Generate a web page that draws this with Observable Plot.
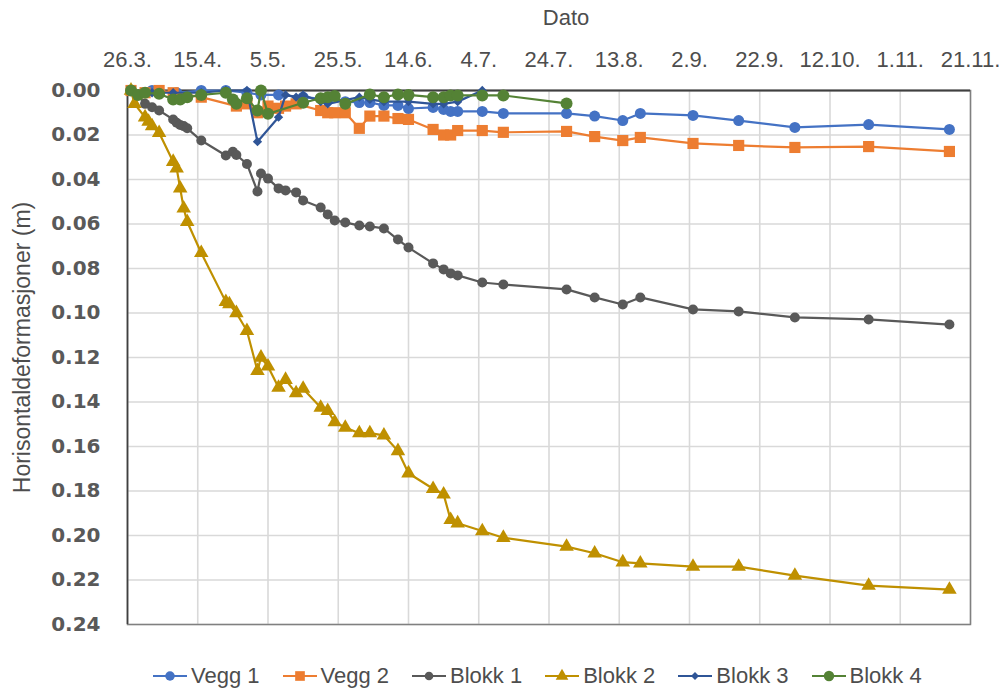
<!DOCTYPE html>
<html>
<head>
<meta charset="utf-8">
<script src="https://cdn.jsdelivr.net/npm/d3@7"></script>
<script src="https://cdn.jsdelivr.net/npm/@observablehq/plot@0.6"></script>
<style>
  body { margin: 0; background: #fff; }
  #chart { position: relative; width: 1005px; height: 690px; background: #fff; }
  #legend {
    position: absolute; left: 153px; top: 660px; height: 32px;
    display: flex; align-items: center; gap: 23px;
    font-family: "Liberation Sans", Arial, sans-serif; font-size: 22px; color: #4d4d4d;
  }
  .item { display: flex; align-items: center; gap: 4px; white-space: nowrap; }
</style>
</head>
<body>
<div id="chart"><div id="legend"></div></div>
<script>
// Horizontal displacement (m) per measuring point, by date
const seriesNames = ["Vegg 1", "Vegg 2", "Blokk 1", "Blokk 2", "Blokk 3", "Blokk 4"];

const vegg1Dates = ["2019-03-27","2019-04-02","2019-04-09","2019-04-16","2019-04-23","2019-04-29","2019-05-03","2019-05-08","2019-05-15","2019-05-22","2019-05-27","2019-05-31","2019-06-03","2019-06-07","2019-06-11","2019-06-14","2019-06-21","2019-06-24","2019-06-26","2019-06-28","2019-07-05","2019-07-11","2019-07-29","2019-08-06","2019-08-14","2019-08-19","2019-09-03","2019-09-16","2019-10-02","2019-10-23","2019-11-15"];
const vegg1Values = [0.000,0.000,0.001,0.000,0.000,0.001,0.002,0.002,0.003,0.004,0.005,0.0054,0.0054,0.0067,0.0067,0.0081,0.0076,0.0085,0.0094,0.0094,0.0094,0.0103,0.0103,0.0115,0.0135,0.0103,0.0112,0.0135,0.0166,0.0153,0.0175];

const vegg2Dates = ["2019-03-27","2019-03-31","2019-04-04","2019-04-08","2019-04-16","2019-04-26","2019-04-29","2019-05-02","2019-05-05","2019-05-08","2019-05-10","2019-05-13","2019-05-20","2019-05-22","2019-05-24","2019-05-27","2019-05-31","2019-06-03","2019-06-07","2019-06-11","2019-06-14","2019-06-21","2019-06-24","2019-06-26","2019-06-28","2019-07-05","2019-07-11","2019-07-29","2019-08-06","2019-08-14","2019-08-19","2019-09-03","2019-09-16","2019-10-02","2019-10-23","2019-11-15"];
const vegg2Values = [0.000,0.001,0.000,0.001,0.003,0.007,0.006,0.010,0.007,0.008,0.007,0.006,0.009,0.010,0.010,0.010,0.017,0.0115,0.0115,0.0126,0.013,0.0175,0.020,0.020,0.018,0.018,0.0188,0.0184,0.0207,0.0225,0.0211,0.0238,0.0247,0.0256,0.0252,0.0274];

const blokk1Dates = ["2019-03-27","2019-03-29","2019-03-31","2019-04-02","2019-04-04","2019-04-08","2019-04-09","2019-04-10","2019-04-11","2019-04-12","2019-04-16","2019-04-23","2019-04-25","2019-04-26","2019-04-29","2019-05-02","2019-05-03","2019-05-05","2019-05-08","2019-05-10","2019-05-13","2019-05-15","2019-05-20","2019-05-22","2019-05-24","2019-05-27","2019-05-31","2019-06-03","2019-06-07","2019-06-11","2019-06-14","2019-06-21","2019-06-24","2019-06-26","2019-06-28","2019-07-05","2019-07-11","2019-07-29","2019-08-06","2019-08-14","2019-08-19","2019-09-03","2019-09-16","2019-10-02","2019-10-23","2019-11-15"];
const blokk1Values = [0.000,0.002,0.006,0.0075,0.009,0.013,0.0145,0.0155,0.016,0.017,0.0225,0.0292,0.0275,0.029,0.033,0.0454,0.0373,0.0396,0.044,0.0449,0.0458,0.0494,0.0526,0.0557,0.0584,0.0593,0.0607,0.0611,0.062,0.067,0.0706,0.0777,0.0804,0.0822,0.0831,0.0863,0.0872,0.0894,0.093,0.0962,0.093,0.0984,0.0993,0.102,0.1029,0.1052];

const blokk2Dates = ["2019-03-27","2019-03-28","2019-03-31","2019-04-01","2019-04-02","2019-04-04","2019-04-08","2019-04-09","2019-04-10","2019-04-11","2019-04-12","2019-04-16","2019-04-23","2019-04-24","2019-04-26","2019-04-29","2019-05-02","2019-05-03","2019-05-05","2019-05-08","2019-05-10","2019-05-13","2019-05-15","2019-05-20","2019-05-22","2019-05-24","2019-05-27","2019-05-31","2019-06-03","2019-06-07","2019-06-11","2019-06-14","2019-06-21","2019-06-24","2019-06-26","2019-06-28","2019-07-05","2019-07-11","2019-07-29","2019-08-06","2019-08-14","2019-08-19","2019-09-03","2019-09-16","2019-10-02","2019-10-23","2019-11-15"];
const blokk2Values = [0.000,0.006,0.012,0.014,0.016,0.019,0.032,0.035,0.044,0.053,0.059,0.073,0.095,0.096,0.100,0.108,0.126,0.120,0.124,0.1335,0.130,0.136,0.134,0.1425,0.144,0.149,0.1515,0.154,0.154,0.155,0.162,0.172,0.179,0.1815,0.193,0.1945,0.198,0.201,0.205,0.208,0.212,0.2125,0.214,0.214,0.218,0.2225,0.2243];

const blokk3Dates = ["2019-03-27","2019-04-02","2019-04-08","2019-04-16","2019-04-23","2019-04-29","2019-05-02","2019-05-08","2019-05-10","2019-05-13","2019-05-15","2019-05-20","2019-05-22","2019-05-31","2019-06-03","2019-06-07","2019-06-14","2019-06-21","2019-06-24","2019-06-28","2019-07-05"];
const blokk3Values = [0.000,0.001,0.001,0.001,0.000,0.000,0.023,0.012,0.002,0.003,0.002,0.005,0.006,0.003,0.004,0.005,0.005,0.006,0.006,0.005,0.000];

const blokk4Dates = ["2019-03-27","2019-03-29","2019-03-31","2019-04-04","2019-04-08","2019-04-10","2019-04-12","2019-04-16","2019-04-23","2019-04-25","2019-04-26","2019-04-29","2019-05-02","2019-05-03","2019-05-05","2019-05-15","2019-05-20","2019-05-22","2019-05-24","2019-05-27","2019-06-03","2019-06-07","2019-06-11","2019-06-14","2019-06-21","2019-06-24","2019-06-26","2019-06-28","2019-07-05","2019-07-11","2019-07-29"];
const blokk4Values = [0.000,0.002,0.001,0.0015,0.004,0.004,0.003,0.002,0.001,0.004,0.006,0.0035,0.009,0.000,0.0105,0.0055,0.0035,0.003,0.0025,0.006,0.0018,0.003,0.0018,0.002,0.003,0.003,0.0022,0.0022,0.0022,0.0022,0.0058];

// Axis ticks: every 20 days along the top, 0.02 m steps down the side
const xTickDates = ["2019-03-26","2019-04-15","2019-05-05","2019-05-25","2019-06-14","2019-07-04","2019-07-24","2019-08-13","2019-09-02","2019-09-22","2019-10-12","2019-11-01","2019-11-21"];
const yTickValues = [0, 0.02, 0.04, 0.06, 0.08, 0.10, 0.12, 0.14, 0.16, 0.18, 0.20, 0.22, 0.24];

// Styling for each series
const seriesStyle = [
  {color: "#4472C4", symbol: "circle",   r: 5.5},
  {color: "#ED7D31", symbol: "square",   r: 6.3},
  {color: "#595959", symbol: "circle",   r: 5},
  {color: "#BF9000", symbol: "triangle", r: 5.4},
  {color: "#2F5597", symbol: "diamond2", r: 4.2},
  {color: "#548235", symbol: "circle",   r: 6}
];

const allDates = [vegg1Dates, vegg2Dates, blokk1Dates, blokk2Dates, blokk3Dates, blokk4Dates];
const allValues = [vegg1Values, vegg2Values, blokk1Values, blokk2Values, blokk3Values, blokk4Values];

const series = seriesNames.map((name, i) => ({
  name,
  ...seriesStyle[i],
  rows: allDates[i].map((d, j) => ({date: new Date(d), value: allValues[i][j]}))
}));

const xTicks = xTickDates.map(d => new Date(d));
const fmtDate = d3.utcFormat("%-d.%-m.");

const seriesMarks = series.flatMap(s => [
  Plot.line(s.rows, {x: "date", y: "value", stroke: s.color, strokeWidth: 2.2}),
  Plot.dot(s.rows, {x: "date", y: "value", symbol: s.symbol, r: s.r, fill: s.color, stroke: "none"})
]);

const chart = Plot.plot({
  width: 1005,
  height: 650,
  marginLeft: 127,
  marginRight: 35,
  marginTop: 90,
  marginBottom: 26,
  style: {fontFamily: "'Liberation Sans', Arial, sans-serif", background: "#fff", overflow: "visible"},
  x: {type: "utc", domain: [xTicks[0], xTicks[xTicks.length - 1]]},
  y: {domain: [0, 0.24], reverse: true},
  marks: [
    Plot.gridX({ticks: xTicks, stroke: "#d9d9d9", strokeOpacity: 1, strokeWidth: 1.6}),
    Plot.gridY({ticks: yTickValues, stroke: "#d9d9d9", strokeOpacity: 1, strokeWidth: 1.6}),
    Plot.frame({stroke: "#808080", strokeWidth: 1.5}),
    Plot.ruleX([xTicks[0]], {stroke: "#404040", strokeWidth: 1.6}),
    Plot.ruleY([0], {stroke: "#404040", strokeWidth: 2}),
    Plot.axisX({anchor: "top", ticks: xTicks, tickFormat: fmtDate, tickSize: 0, tickPadding: 24,
      fontSize: 22, label: null, color: "#4d4d4d"}),
    Plot.axisY({ticks: yTickValues, tickFormat: d3.format(".2f"), tickSize: 0, tickPadding: 27,
      fontSize: 20, fontFamily: "DejaVu Sans", fontWeight: "bold", label: null, color: "#595959"}),
    Plot.text(["Dato"], {frameAnchor: "top", dx: 17, dy: -73, fontSize: 22, fill: "#4d4d4d",
      textAnchor: "middle", lineAnchor: "middle"}),
    Plot.text(["Horisontaldeformasjoner (m)"], {frameAnchor: "left", dx: -105, dy: -10, rotate: -90,
      fontSize: 23, fill: "#4d4d4d", textAnchor: "middle", lineAnchor: "middle"}),
    ...seriesMarks
  ]
});

const host = document.getElementById("chart");
host.insertBefore(chart, host.firstChild);

// Legend under the plot: line swatch with marker, then name
const symbolTypes = {circle: d3.symbolCircle, square: d3.symbolSquare, triangle: d3.symbolTriangle, diamond2: d3.symbolDiamond2};
const legend = d3.select("#legend");
series.forEach(s => {
  const item = legend.append("div").attr("class", "item");
  const sw = item.append("svg").attr("width", 34).attr("height", 16);
  sw.append("line").attr("x1", 0).attr("x2", 34).attr("y1", 8).attr("y2", 8)
    .attr("stroke", s.color).attr("stroke-width", 2.2);
  sw.append("path").attr("transform", "translate(17,8)")
    .attr("d", d3.symbol(symbolTypes[s.symbol], Math.PI * s.r * s.r * 0.75)())
    .attr("fill", s.color);
  item.append("span").text(s.name);
});
</script>
</body>
</html>
